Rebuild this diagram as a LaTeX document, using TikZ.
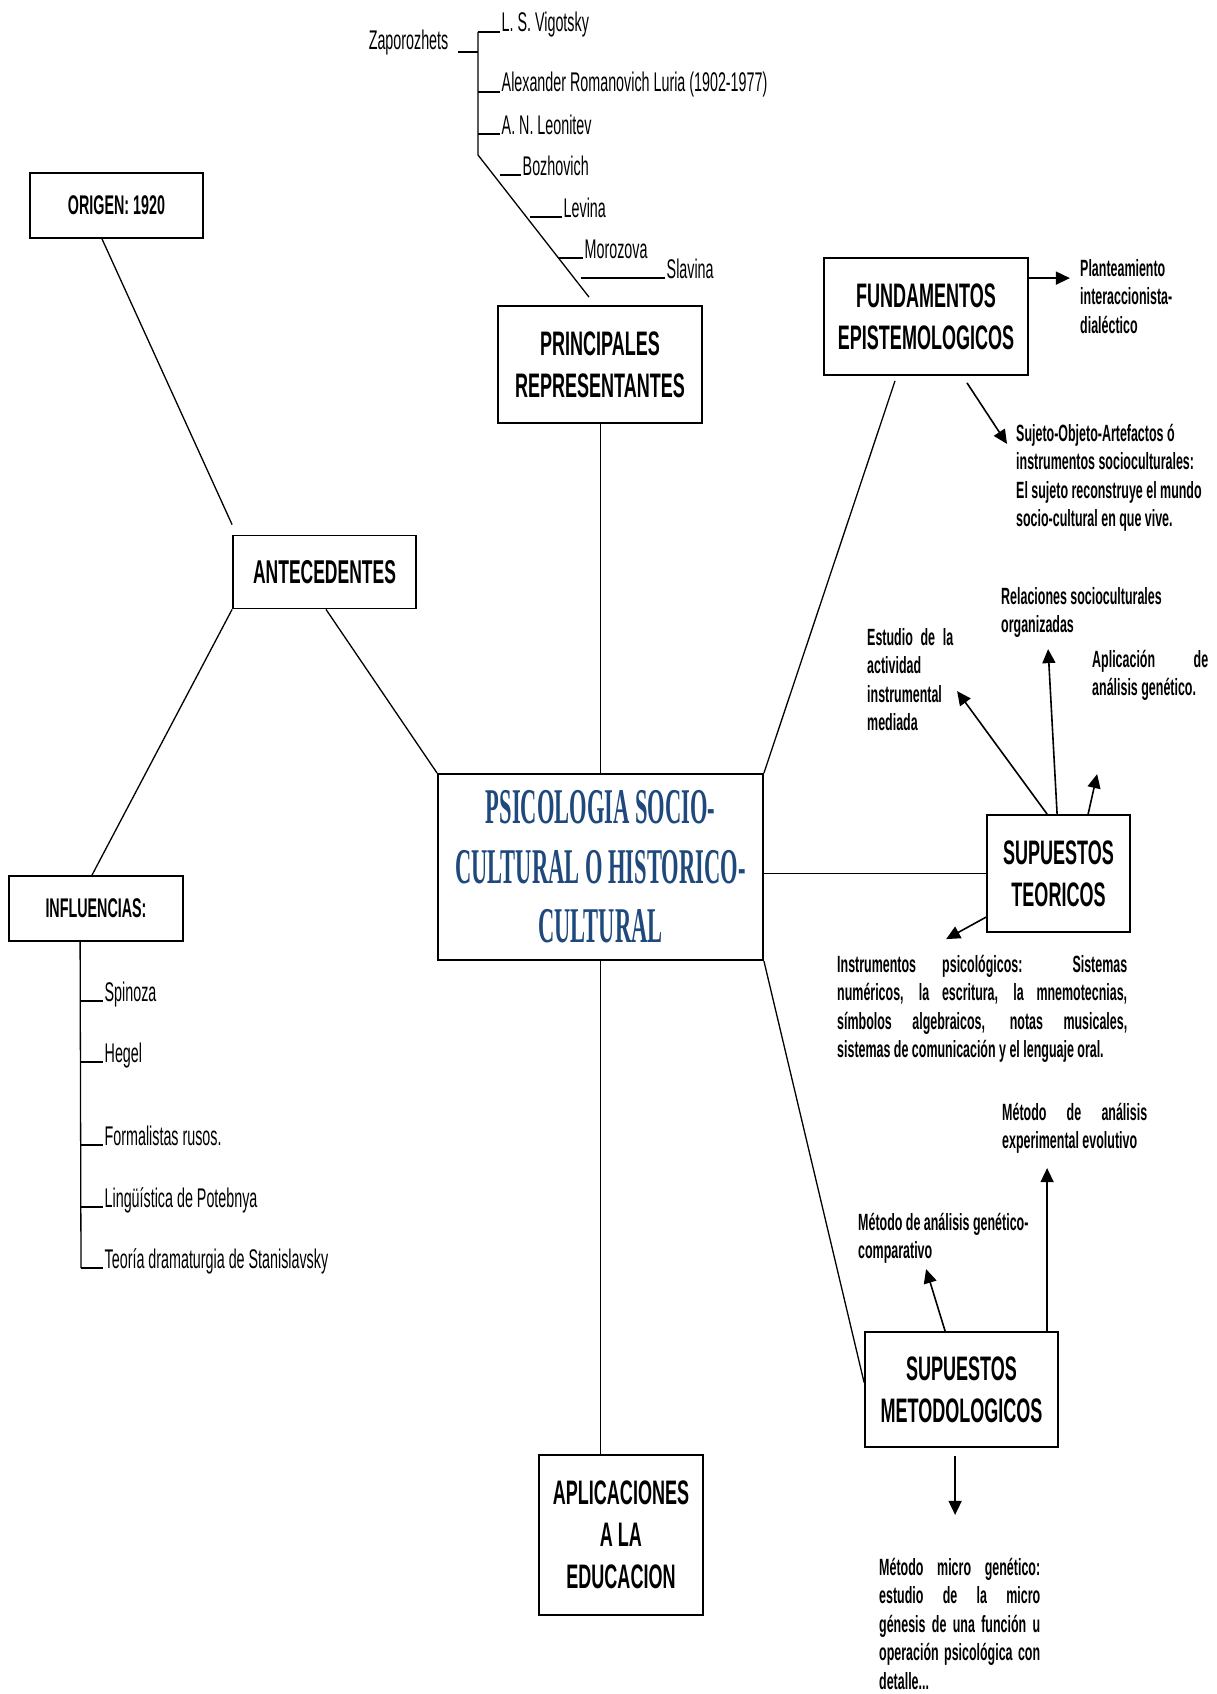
\documentclass[tikz,border=0pt]{standalone}
\usepackage{fontspec}
\setmainfont{Liberation Sans}
\newfontfamily\narrowfont{Liberation Sans}[FakeStretch=0.53]
\newfontfamily\titlefont{Liberation Serif}[FakeStretch=0.45]
\usetikzlibrary{arrows.meta,calc}
\definecolor{titleblue}{RGB}{31,73,125}
\newcommand\jline[2]{\makebox[#1pt][s]{#2}}
\begin{document}
\begin{tikzpicture}[x=1pt,y=-1pt,
  boxA/.style={draw,line width=1.8pt,inner sep=0pt,align=center,
    font=\narrowfont\bfseries\fontsize{34}{42}\selectfont},
  boxB/.style={draw,line width=1.8pt,inner sep=0pt,align=center,
    font=\narrowfont\bfseries\fontsize{27}{32}\selectfont},
  titlebox/.style={draw,line width=1.8pt,inner sep=0pt,align=center,text=titleblue,
    font=\titlefont\bfseries\fontsize{50}{59.5}\selectfont},
  nameitem/.style={inner sep=1.5pt,anchor=base west,
    font=\narrowfont\fontsize{27}{32}\selectfont},
  note/.style={inner sep=0pt,anchor=north west,align=left,
    font=\narrowfont\bfseries\fontsize{23.5}{28.5}\selectfont},
  conn/.style={line width=1.3pt},
  tickline/.style={line width=2pt},
  arr/.style={line width=1.6pt,-{Triangle[length=14pt,width=13pt]}}]

\fill[white] (0,0) rectangle (1217,1694);
\useasboundingbox (0,0) rectangle (1217,1694);

% ---- boxes ----
\node[boxB,minimum width=173pt,minimum height=65pt] (origin) at (116.5,205.5) {ORIGEN: 1920};
\node[boxA,font=\narrowfont\bfseries\fontsize{33}{40}\selectfont,minimum width=183pt,minimum height=73pt] (ante) at (324.5,572) {ANTECEDENTES};
\node[boxB,minimum width=174pt,minimum height=65pt] (infl) at (96,908.5) {INFLUENCIAS:};
\node[boxA,minimum width=204pt,minimum height=117pt] (princ) at (600,364.5) {PRINCIPALES\\REPRESENTANTES};
\node[titlebox,minimum width=325pt,minimum height=186pt] (central) at (600.5,867) {PSICOLOGIA SOCIO-\\CULTURAL O HISTORICO-\\CULTURAL};
\node[boxA,minimum width=204pt,minimum height=117pt] (fund) at (926,316.5) {FUNDAMENTOS\\EPISTEMOLOGICOS};
\node[boxA,minimum width=143pt,minimum height=117pt] (teor) at (1058.5,873.5) {SUPUESTOS\\TEORICOS};
\node[boxA,minimum width=193pt,minimum height=115pt] (metod) at (961.5,1389.5) {SUPUESTOS\\METODOLOGICOS};
\node[boxA,minimum width=164pt,minimum height=160pt] (aplic) at (621,1535) {APLICACIONES\\A LA\\EDUCACION};

% ---- main connectors ----
\draw[conn] ($(origin.south)+(-14.5,0)$) -- ($(ante.north west)+(0,-10)$);
\draw[conn] (ante.south west) -- ($(infl.north)+(-4,0)$);
\draw[conn] ($(ante.south)+(1.5,0)$) -- (central.north west);
\draw[conn] (central.north) -- (central.north |- princ.south);
\draw[conn] (central.north east) -- ($(fund.south)+(-31,5)$);
\draw[conn] (teor.west -| central.east) -- (teor.west);
\draw[conn] (central.south east) -- ($(metod.west)+(0,-7)$);
\draw[conn] (central.south) -- (central.south |- aplic.north);

% ---- representatives tree ----
\node[nameitem,anchor=base east] (zap) at (450,50) {Zaporozhets};
\node[nameitem] (vig) at (500,32) {L. S. Vigotsky};
\node[nameitem] (luria) at (500,92) {Alexander Romanovich Luria (1902-1977)};
\node[nameitem] (leon) at (500,134) {A. N. Leonitev};
\node[nameitem] (bozh) at (521,175) {Bozhovich};
\node[nameitem] (lev) at (562,217) {Levina};
\node[nameitem] (moro) at (583,258) {Morozova};
\node[nameitem] (slav) at (665,278) {Slavina};
\coordinate (ttop) at (478,32);
\coordinate (tjoin) at (478,155);
\draw[conn] ($(princ.north)+(-11,-8)$) -- (tjoin) -- (ttop);
\draw[tickline] (458,52) -- (478,52);
\draw[tickline] (ttop) -- (vig.base west);
\draw[tickline] (478,92) -- (luria.base west);
\draw[tickline] (478,134) -- (leon.base west);
\draw[tickline] (500,175) -- (bozh.base west);
\draw[tickline] (530,217) -- (lev.base west);
\draw[tickline] (559,258) -- (moro.base west);
\draw[tickline] (581,278) -- (slav.base west);

% ---- influences ----
\node[nameitem] (spin) at (103,1001) {Spinoza};
\node[nameitem] (heg) at (103,1062) {Hegel};
\node[nameitem] (form) at (103,1145) {Formalistas rusos.};
\node[nameitem] (ling) at (103,1207) {Lingüística de Potebnya};
\node[nameitem] (teo) at (103,1268) {Teoría dramaturgia de Stanislavsky};
\coordinate (ibot) at (81,1268);
\draw[conn] ($(infl.south west)+(72,0)$) -- (ibot);
\draw[tickline] (81,1001) -- (spin.base west);
\draw[tickline] (81,1062) -- (heg.base west);
\draw[tickline] (81,1145) -- (form.base west);
\draw[tickline] (81,1207) -- (ling.base west);
\draw[tickline] (ibot) -- (teo.base west);

% ---- notes ----
\node[note] (plan) at (1080,256) {\strut Planteamiento\\interaccionista-\\dialéctico};
\node[note] (suj) at (1016,421) {\strut Sujeto-Objeto-Artefactos ó\\instrumentos socioculturales:\\El sujeto reconstruye el mundo\\socio-cultural en que vive.};
\node[note] (estud) at (867,625) {\strut\jline{86}{Estudio de la}\\actividad\\instrumental\\mediada};
\node[note] (relac) at (1001,584) {\strut Relaciones socioculturales\\organizadas};
\node[note] (aplicn) at (1092,647) {\strut\jline{116}{Aplicación de}\\análisis genético.};
\node[note] (instr) at (837,952) {\strut\jline{290}{Instrumentos psicológicos: Sistemas}\\\jline{290}{numéricos, la escritura, la mnemotecnias,}\\\jline{290}{símbolos algebraicos, notas musicales,}\\sistemas de comunicación y el lenguaje oral.};
\node[note] (mexp) at (1002,1100) {\strut\jline{145}{Método de análisis}\\experimental evolutivo};
\node[note] (mcomp) at (858,1210) {\strut Método de análisis genético-\\comparativo};
\node[note] (micro) at (879,1555) {\strut\jline{161}{Método micro genético:}\\\jline{161}{estudio de la micro}\\\jline{161}{génesis de una función u}\\\jline{161}{operación psicológica con}\\detalle...};

% ---- arrows ----
\draw[arr] ($(fund.north east)+(0,21)$) -- ($(fund.north east)+(41,21)$);
\draw[arr] ($(fund.south)+(41,7)$) -- ($(fund.south)+(81,68)$);
\draw[arr] ($(teor.north west)+(61,0)$) -- ($(teor.north west)+(-29,-123)$);
\draw[arr] ($(teor.north west)+(71,0)$) -- ($(teor.north west)+(62,-165)$);
\draw[arr] ($(teor.north west)+(102,0)$) -- ($(teor.north west)+(111,-40)$);
\draw[arr] ($(teor.north west)+(0,103)$) -- ($(teor.north west)+(-40,125)$);
\draw[arr] ($(metod.north west)+(81,0)$) -- ($(metod.north west)+(62,-62)$);
\draw[arr] ($(metod.north west)+(183,0)$) -- ($(metod.north west)+(183,-163)$);
\draw[arr] ($(metod.south west)+(91,8)$) -- ($(metod.south west)+(91,67)$);
\end{tikzpicture}
\end{document}
